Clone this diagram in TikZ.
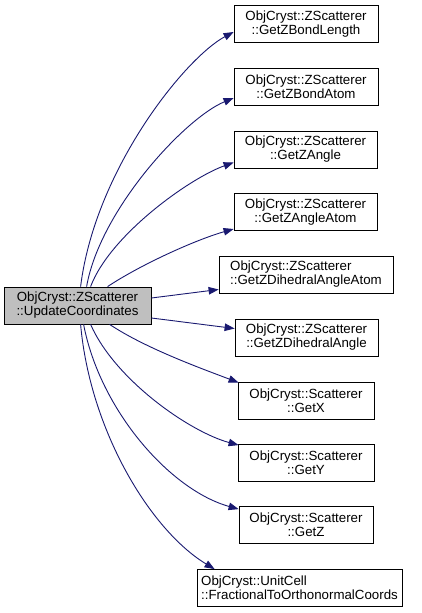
\documentclass[tikz,border=0pt]{standalone}
\usepackage{fontspec}
\setmainfont{Liberation Sans}
\usetikzlibrary{arrows.meta}
\definecolor{edgeblue}{HTML}{191970}
\definecolor{srcgray}{HTML}{BFBFBF}
\begin{document}
\begin{tikzpicture}[x=1bp,y=-1bp,
  box/.style={draw=black, line width=0.8bp, fill=white, inner sep=0pt, minimum height=37bp, font=\fontsize{13.3bp}{14bp}\selectfont, align=center},
  lbox/.style={box, align=left},
  edge/.style={draw=edgeblue, line width=0.9bp, -{Triangle[length=10bp,width=7.5bp]}}]
\useasboundingbox (0,0) rectangle (421,613);
\node[box, fill=srcgray, minimum width=147bp] (src) at (77.5,305.5) {ObjCryst::ZScatterer\\::UpdateCoordinates};
\node[box, minimum width=144bp] (t1) at (306,24) {ObjCryst::ZScatterer\\::GetZBondLength};
\node[box, minimum width=144bp] (t2) at (306,87) {ObjCryst::ZScatterer\\::GetZBondAtom};
\node[box, minimum width=143bp] (t3) at (305.5,149.5) {ObjCryst::ZScatterer\\::GetZAngle};
\node[box, minimum width=143bp] (t4) at (305.5,212) {ObjCryst::ZScatterer\\::GetZAngleAtom};
\node[lbox, minimum width=174bp] (t5) at (306,274.5) {ObjCryst::ZScatterer\\::GetZDihedralAngleAtom};
\node[box, minimum width=143bp] (t6) at (306.5,337.5) {ObjCryst::ZScatterer\\::GetZDihedralAngle};
\node[box, minimum width=136bp] (t7) at (306,400.5) {ObjCryst::Scatterer\\::GetX};
\node[box, minimum width=136bp] (t8) at (306,463) {ObjCryst::Scatterer\\::GetY};
\node[box, minimum width=134bp] (t9) at (306,525) {ObjCryst::Scatterer\\::GetZ};
\node[lbox, minimum width=205bp] (t10) at (299.5,588) {ObjCryst::UnitCell\\::FractionalToOrthonormalCoords};

\draw[edge] ([xshift=77bp]src.north west) .. controls (95,170) and (185,58) .. ([yshift=-8bp]t1.west);
\draw[edge] ([xshift=83bp]src.north west) .. controls (100,210) and (185,118) .. ([yshift=-11bp]t2.west);
\draw[edge] ([xshift=87bp]src.north west) .. controls (110,235) and (190,178) .. ([yshift=-13bp]t3.west);
\draw[edge] ([xshift=104bp]src.north west) .. controls (140,265) and (195,240) .. ([yshift=-17bp]t4.west);
\draw[edge] ([yshift=7.5bp]src.east) -- ([yshift=-15bp]t5.west);
\draw[edge] ([yshift=-12.5bp]src.east) -- ([yshift=9bp]t6.west);
\draw[edge] ([xshift=106bp]src.south west) .. controls (145,348) and (200,368) .. ([xshift=1bp,yshift=-1bp]t7.north west);
\draw[edge] ([xshift=87bp]src.south west) .. controls (115,380) and (190,432) .. ([xshift=1bp,yshift=-1bp]t8.north west);
\draw[edge] ([xshift=80bp]src.south west) .. controls (100,410) and (170,490) .. ([xshift=0bp,yshift=-3bp]t9.north west);
\draw[edge] ([xshift=77bp]src.south west) .. controls (90,430) and (150,530) .. ([xshift=18bp]t10.north west);
\end{tikzpicture}
\end{document}
